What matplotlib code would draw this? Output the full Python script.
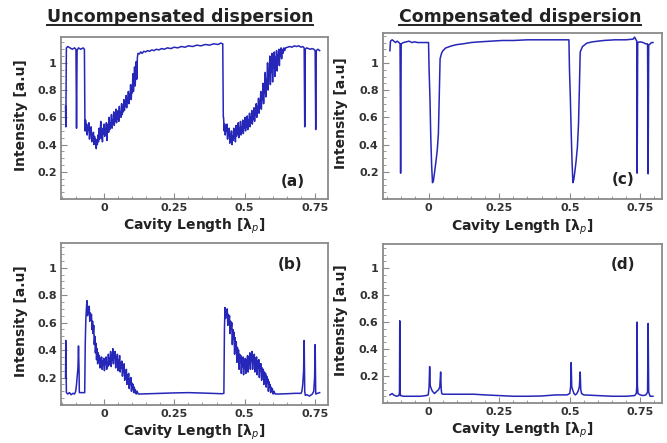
import matplotlib
matplotlib.use("Agg")
import matplotlib.pyplot as plt
from matplotlib.lines import Line2D
from matplotlib.ticker import MultipleLocator

# ---- data (x in lambda_p, intensity in a.u.) ----
a_pts = [
    (-0.136, 0.68), (-0.135, 0.53), (-0.133, 1.11), (-0.128, 1.12), (-0.120, 1.11),
    (-0.112, 1.10), (-0.104, 1.11), (-0.099, 1.10), (-0.097, 0.52), (-0.095, 1.09),
    (-0.090, 1.11), (-0.082, 1.10), (-0.074, 1.11), (-0.069, 1.10), (-0.067, 0.50),
    (-0.065, 0.58), (-0.063, 0.50), (-0.061, 0.55), (-0.059, 0.47), (-0.057, 0.53),
    (-0.055, 0.51), (-0.053, 0.56), (-0.051, 0.44), (-0.049, 0.50), (-0.047, 0.48),
    (-0.045, 0.53), (-0.043, 0.42), (-0.041, 0.47), (-0.039, 0.45), (-0.037, 0.49),
    (-0.035, 0.40), (-0.033, 0.46), (-0.031, 0.42), (-0.029, 0.44), (-0.027, 0.37),
    (-0.025, 0.43), (-0.023, 0.40), (-0.021, 0.47), (-0.019, 0.42), (-0.017, 0.52),
    (-0.015, 0.44), (-0.013, 0.48), (-0.011, 0.57), (-0.009, 0.45), (-0.007, 0.50),
    (-0.005, 0.42), (-0.003, 0.52), (-0.001, 0.48), (0.001, 0.55), (0.003, 0.46),
    (0.005, 0.51), (0.007, 0.49), (0.009, 0.56), (0.011, 0.43), (0.013, 0.52),
    (0.015, 0.55), (0.017, 0.49), (0.019, 0.60), (0.021, 0.51), (0.023, 0.56),
    (0.025, 0.53), (0.027, 0.62), (0.029, 0.52), (0.031, 0.58), (0.033, 0.55),
    (0.035, 0.64), (0.037, 0.54), (0.039, 0.60), (0.041, 0.57), (0.043, 0.66),
    (0.045, 0.56), (0.047, 0.61), (0.049, 0.59), (0.051, 0.65), (0.053, 0.57),
    (0.055, 0.68), (0.057, 0.61), (0.059, 0.64), (0.061, 0.60), (0.063, 0.70),
    (0.065, 0.62), (0.067, 0.66), (0.069, 0.64), (0.071, 0.73), (0.073, 0.65),
    (0.075, 0.70), (0.077, 0.68), (0.079, 0.76), (0.081, 0.67), (0.083, 0.74),
    (0.085, 0.71), (0.087, 0.79), (0.089, 0.70), (0.091, 0.77), (0.093, 0.75),
    (0.095, 0.84), (0.097, 0.73), (0.099, 0.80), (0.101, 0.78), (0.103, 0.92),
    (0.105, 0.79), (0.107, 0.86), (0.109, 0.97), (0.111, 0.83), (0.113, 0.90),
    (0.115, 1.01), (0.117, 0.88), (0.119, 1.04), (0.121, 1.07), (0.126, 1.065),
    (0.131, 1.08), (0.136, 1.07), (0.142, 1.085), (0.148, 1.08), (0.155, 1.09),
    (0.162, 1.085), (0.170, 1.095), (0.178, 1.09), (0.186, 1.10), (0.195, 1.095),
    (0.205, 1.105), (0.215, 1.10), (0.225, 1.11), (0.238, 1.105), (0.250, 1.115),
    (0.262, 1.11), (0.275, 1.12), (0.288, 1.115), (0.300, 1.125), (0.315, 1.12),
    (0.330, 1.13), (0.345, 1.125), (0.360, 1.135), (0.375, 1.13), (0.390, 1.14),
    (0.405, 1.135), (0.415, 1.145), (0.422, 1.14), (0.424, 0.60),
    (0.425, 0.60), (0.427, 0.50), (0.429, 0.55), (0.431, 0.47), (0.433, 0.53),
    (0.435, 0.50), (0.437, 0.55), (0.439, 0.44), (0.441, 0.50), (0.443, 0.47),
    (0.445, 0.52), (0.447, 0.41), (0.449, 0.48), (0.451, 0.44), (0.453, 0.50),
    (0.455, 0.40), (0.457, 0.46), (0.459, 0.43), (0.461, 0.52), (0.463, 0.45),
    (0.465, 0.49), (0.467, 0.42), (0.469, 0.54), (0.471, 0.46), (0.473, 0.51),
    (0.475, 0.48), (0.477, 0.56), (0.479, 0.45), (0.481, 0.52), (0.483, 0.49),
    (0.485, 0.57), (0.487, 0.47), (0.489, 0.53), (0.491, 0.50), (0.493, 0.58),
    (0.495, 0.48), (0.497, 0.55), (0.499, 0.52), (0.501, 0.60), (0.503, 0.50),
    (0.505, 0.56), (0.507, 0.53), (0.509, 0.61), (0.511, 0.51), (0.513, 0.58),
    (0.515, 0.55), (0.517, 0.63), (0.519, 0.53), (0.521, 0.60), (0.523, 0.57),
    (0.525, 0.65), (0.527, 0.55), (0.529, 0.62), (0.531, 0.59), (0.533, 0.67),
    (0.535, 0.57), (0.537, 0.64), (0.539, 0.62), (0.541, 0.70), (0.543, 0.60),
    (0.545, 0.68), (0.547, 0.65), (0.549, 0.74), (0.551, 0.63), (0.553, 0.71),
    (0.555, 0.69), (0.557, 0.79), (0.559, 0.66), (0.561, 0.76), (0.563, 0.73),
    (0.565, 0.85), (0.567, 0.70), (0.569, 0.82), (0.571, 0.78), (0.573, 0.93),
    (0.575, 0.75), (0.577, 0.88), (0.579, 0.84), (0.581, 1.00), (0.583, 0.80),
    (0.585, 0.95), (0.587, 0.90), (0.589, 1.05), (0.591, 0.84), (0.593, 0.98),
    (0.595, 0.93), (0.597, 1.07), (0.599, 0.86), (0.601, 1.02), (0.603, 0.96),
    (0.605, 1.08), (0.607, 0.90), (0.609, 1.04), (0.611, 0.99), (0.613, 1.09),
    (0.615, 0.94), (0.617, 1.06), (0.619, 1.02), (0.621, 1.10), (0.623, 0.98),
    (0.625, 1.08), (0.627, 1.05), (0.629, 1.11), (0.631, 1.03), (0.633, 1.10),
    (0.636, 1.07), (0.639, 1.11), (0.642, 1.09), (0.645, 1.11), (0.652, 1.115),
    (0.660, 1.12), (0.668, 1.115), (0.676, 1.125), (0.684, 1.12), (0.692, 1.125),
    (0.700, 1.115), (0.706, 1.12), (0.711, 1.11), (0.713, 0.53), (0.715, 1.10),
    (0.720, 1.11), (0.726, 1.105), (0.732, 1.10), (0.739, 1.105), (0.745, 1.10),
    (0.750, 1.09), (0.752, 0.51), (0.754, 1.09), (0.760, 1.10), (0.766, 1.09),
]

b_pts = [
    (-0.136, 0.20), (-0.135, 0.47), (-0.133, 0.09), (-0.128, 0.08), (-0.122, 0.09),
    (-0.116, 0.075), (-0.110, 0.085), (-0.104, 0.08), (-0.100, 0.10), (-0.097, 0.15),
    (-0.094, 0.22), (-0.092, 0.27), (-0.090, 0.43), (-0.088, 0.25), (-0.087, 0.09),
    (-0.080, 0.09), (-0.072, 0.09), (-0.068, 0.09), (-0.066, 0.45),
    (-0.064, 0.62), (-0.062, 0.70), (-0.060, 0.76), (-0.058, 0.65), (-0.056, 0.71),
    (-0.054, 0.67), (-0.052, 0.72), (-0.050, 0.61), (-0.048, 0.67), (-0.046, 0.63),
    (-0.044, 0.66), (-0.042, 0.55), (-0.040, 0.61), (-0.038, 0.52), (-0.036, 0.58),
    (-0.034, 0.44), (-0.032, 0.50), (-0.030, 0.38), (-0.028, 0.45), (-0.026, 0.33),
    (-0.024, 0.41), (-0.022, 0.30), (-0.020, 0.38), (-0.018, 0.33), (-0.016, 0.36),
    (-0.014, 0.27), (-0.012, 0.34), (-0.010, 0.30), (-0.008, 0.35), (-0.006, 0.26),
    (-0.004, 0.32), (-0.002, 0.29), (0.000, 0.34), (0.002, 0.25), (0.004, 0.33),
    (0.006, 0.30), (0.008, 0.35), (0.010, 0.26), (0.012, 0.31), (0.014, 0.28),
    (0.016, 0.37), (0.018, 0.29), (0.020, 0.34), (0.022, 0.31), (0.024, 0.39),
    (0.026, 0.28), (0.028, 0.36), (0.030, 0.33), (0.032, 0.41), (0.034, 0.30),
    (0.036, 0.38), (0.038, 0.34), (0.040, 0.39), (0.042, 0.27), (0.044, 0.35),
    (0.046, 0.31), (0.048, 0.37), (0.050, 0.25), (0.052, 0.33), (0.054, 0.29),
    (0.056, 0.36), (0.058, 0.24), (0.060, 0.31), (0.062, 0.27), (0.064, 0.32),
    (0.066, 0.21), (0.068, 0.28), (0.070, 0.24), (0.072, 0.30), (0.074, 0.18),
    (0.076, 0.25), (0.078, 0.21), (0.080, 0.26), (0.082, 0.15), (0.084, 0.22),
    (0.086, 0.18), (0.088, 0.23), (0.090, 0.12), (0.092, 0.19), (0.094, 0.15),
    (0.096, 0.20), (0.098, 0.10), (0.100, 0.16), (0.102, 0.12), (0.104, 0.15),
    (0.106, 0.09), (0.108, 0.13), (0.110, 0.09), (0.112, 0.11), (0.115, 0.08),
    (0.118, 0.10), (0.122, 0.08), (0.130, 0.08), (0.160, 0.082), (0.200, 0.085),
    (0.250, 0.088), (0.300, 0.09), (0.350, 0.087), (0.400, 0.083), (0.420, 0.082),
    (0.426, 0.085), (0.428, 0.55),
    (0.430, 0.71), (0.432, 0.63), (0.434, 0.69), (0.436, 0.66), (0.438, 0.70),
    (0.440, 0.58), (0.442, 0.66), (0.444, 0.61), (0.446, 0.65), (0.448, 0.52),
    (0.450, 0.61), (0.452, 0.55), (0.454, 0.60), (0.456, 0.44), (0.458, 0.55),
    (0.460, 0.48), (0.462, 0.53), (0.464, 0.37), (0.466, 0.49), (0.468, 0.41),
    (0.470, 0.46), (0.472, 0.31), (0.474, 0.42), (0.476, 0.35), (0.478, 0.40),
    (0.480, 0.26), (0.482, 0.37), (0.484, 0.31), (0.486, 0.36), (0.488, 0.23),
    (0.490, 0.34), (0.492, 0.28), (0.494, 0.35), (0.496, 0.22), (0.498, 0.32),
    (0.500, 0.27), (0.502, 0.34), (0.504, 0.23), (0.506, 0.33), (0.508, 0.29),
    (0.510, 0.36), (0.512, 0.24), (0.514, 0.35), (0.516, 0.30), (0.518, 0.38),
    (0.520, 0.26), (0.522, 0.36), (0.524, 0.32), (0.526, 0.39), (0.528, 0.26),
    (0.530, 0.35), (0.532, 0.31), (0.534, 0.37), (0.536, 0.24), (0.538, 0.34),
    (0.540, 0.29), (0.542, 0.35), (0.544, 0.22), (0.546, 0.32), (0.548, 0.27),
    (0.550, 0.33), (0.552, 0.20), (0.554, 0.30), (0.556, 0.25), (0.558, 0.30),
    (0.560, 0.18), (0.562, 0.27), (0.564, 0.22), (0.566, 0.26), (0.568, 0.15),
    (0.570, 0.24), (0.572, 0.19), (0.574, 0.23), (0.576, 0.13), (0.578, 0.21),
    (0.580, 0.16), (0.582, 0.19), (0.584, 0.10), (0.586, 0.17), (0.588, 0.13),
    (0.590, 0.15), (0.592, 0.09), (0.594, 0.13), (0.596, 0.10), (0.598, 0.12),
    (0.601, 0.08), (0.604, 0.10), (0.608, 0.08), (0.620, 0.08), (0.650, 0.082),
    (0.680, 0.085), (0.700, 0.085), (0.703, 0.10), (0.706, 0.15), (0.709, 0.25),
    (0.711, 0.47), (0.713, 0.10), (0.715, 0.07), (0.720, 0.075), (0.730, 0.065),
    (0.740, 0.08), (0.745, 0.10), (0.748, 0.20), (0.750, 0.44), (0.752, 0.08),
    (0.758, 0.085), (0.766, 0.09),
]

c_pts = [
    (-0.138, 1.09), (-0.136, 1.16), (-0.130, 1.17), (-0.124, 1.16), (-0.118, 1.15),
    (-0.112, 1.16), (-0.106, 1.15), (-0.102, 1.14), (-0.100, 0.19), (-0.098, 1.14),
    (-0.090, 1.15), (-0.080, 1.155), (-0.070, 1.16), (-0.060, 1.15), (-0.050, 1.155),
    (-0.040, 1.15), (-0.030, 1.15), (-0.020, 1.15), (-0.010, 1.15), (-0.001, 1.15),
    (0.001, 0.95), (0.004, 0.75), (0.007, 0.45), (0.010, 0.25), (0.013, 0.12),
    (0.016, 0.13), (0.020, 0.19), (0.025, 0.27), (0.030, 0.36), (0.034, 0.48),
    (0.037, 0.75), (0.040, 1.03), (0.045, 1.07), (0.050, 1.09), (0.060, 1.11),
    (0.080, 1.125), (0.100, 1.135), (0.120, 1.14), (0.150, 1.15), (0.180, 1.155),
    (0.220, 1.16), (0.260, 1.165), (0.300, 1.165), (0.350, 1.17), (0.400, 1.17),
    (0.450, 1.17), (0.497, 1.17), (0.499, 0.95), (0.502, 0.75), (0.505, 0.50),
    (0.508, 0.28), (0.511, 0.12), (0.514, 0.14), (0.518, 0.20), (0.522, 0.27),
    (0.527, 0.38), (0.531, 0.55), (0.534, 0.80), (0.537, 1.08), (0.545, 1.12),
    (0.560, 1.145), (0.580, 1.155), (0.620, 1.165), (0.660, 1.17), (0.700, 1.17),
    (0.725, 1.175), (0.730, 1.19), (0.735, 1.17), (0.738, 1.16), (0.739, 0.19),
    (0.741, 1.15), (0.750, 1.155), (0.760, 1.15), (0.770, 1.14), (0.776, 1.14),
    (0.778, 0.185), (0.780, 1.13), (0.785, 1.14), (0.790, 1.15), (0.795, 1.15),
]

d_pts = [
    (-0.138, 0.06), (-0.130, 0.07), (-0.125, 0.06), (-0.115, 0.05), (-0.106, 0.055),
    (-0.104, 0.08), (-0.103, 0.61), (-0.102, 0.08), (-0.100, 0.055), (-0.090, 0.05),
    (-0.070, 0.05), (-0.050, 0.05), (-0.030, 0.05), (-0.010, 0.055), (-0.002, 0.06),
    (0.001, 0.12), (0.003, 0.27), (0.005, 0.13), (0.008, 0.11), (0.012, 0.09),
    (0.016, 0.08), (0.020, 0.07), (0.025, 0.08), (0.030, 0.09), (0.035, 0.10),
    (0.039, 0.12), (0.042, 0.23), (0.044, 0.10), (0.046, 0.07), (0.050, 0.065),
    (0.080, 0.065), (0.120, 0.065), (0.160, 0.065), (0.200, 0.06), (0.250, 0.055),
    (0.300, 0.05), (0.350, 0.05), (0.400, 0.052), (0.450, 0.06), (0.490, 0.06),
    (0.500, 0.07), (0.503, 0.12), (0.505, 0.30), (0.507, 0.12), (0.510, 0.10),
    (0.515, 0.07), (0.520, 0.06), (0.525, 0.07), (0.530, 0.09), (0.534, 0.12),
    (0.537, 0.23), (0.539, 0.10), (0.542, 0.07), (0.550, 0.06), (0.600, 0.055),
    (0.650, 0.05), (0.700, 0.05), (0.730, 0.055), (0.736, 0.07), (0.738, 0.13),
    (0.739, 0.60), (0.740, 0.13), (0.742, 0.07), (0.750, 0.06), (0.760, 0.055),
    (0.770, 0.06), (0.776, 0.08), (0.778, 0.59), (0.780, 0.08), (0.785, 0.05),
    (0.795, 0.05),
]

x_ticks = [0, 0.25, 0.5, 0.75]
x_tick_labels = ["0", "0.25", "0.5", "0.75"]
y_ticks = [0.2, 0.4, 0.6, 0.8, 1.0]
y_tick_labels = ["0.2", "0.4", "0.6", "0.8", "1"]

line_color = "#2626b8"
frame_color = "#8a8a8a"

fig = plt.figure(figsize=(6.67, 4.43), dpi=100)
fig.patch.set_facecolor("white")

panels = [
    (a_pts, "(a)", [0.0915, 0.5508, 0.400, 0.3657], (-0.152, 0.795), (0, 1.19), (0.87, 0.11)),
    (c_pts, "(c)", [0.574, 0.5508, 0.418, 0.3747], (-0.163, 0.826), (0, 1.22), (0.86, 0.12)),
    (b_pts, "(b)", [0.0915, 0.0858, 0.400, 0.3657], (-0.152, 0.795), (0, 1.18), (0.86, 0.87)),
    (d_pts, "(d)", [0.574, 0.0903, 0.418, 0.359], (-0.163, 0.826), (0, 1.18), (0.86, 0.87)),
]

for pts, tag, rect, xl, yl, tag_pos in panels:
    ax = fig.add_axes(rect)
    xs = [p[0] for p in pts]
    ys = [p[1] for p in pts]
    ax.plot(xs, ys, color=line_color, lw=1.1)
    ax.set_xlim(*xl)
    ax.set_ylim(*yl)
    ax.set_xticks(x_ticks)
    ax.set_xticklabels(x_tick_labels)
    ax.set_yticks(y_ticks)
    ax.set_yticklabels(y_tick_labels)
    ax.xaxis.set_minor_locator(MultipleLocator(0.05))
    ax.yaxis.set_minor_locator(MultipleLocator(0.05))
    ax.tick_params(which="both", direction="in", color=frame_color,
                   labelsize=8, labelcolor="#333333")
    ax.tick_params(which="major", length=4, width=0.8, pad=3)
    ax.tick_params(which="minor", length=2, width=0.6)
    for lab in ax.get_xticklabels() + ax.get_yticklabels():
        lab.set_fontweight("bold")
    for sp in ax.spines.values():
        sp.set_color(frame_color)
        sp.set_linewidth(1.3)
    ax.set_ylabel("Intensity [a.u]", fontsize=10, fontweight="bold", color="#222222")
    ax.set_xlabel("Cavity Length [λ$_{p}$]", fontsize=10, fontweight="bold", color="#222222")
    ax.yaxis.set_label_coords(-0.15, 0.52)
    ax.xaxis.set_label_coords(0.5, -0.17)
    ax.xaxis.label.set_va("center")
    ax.yaxis.label.set_va("center")
    ax.text(tag_pos[0], tag_pos[1], tag, transform=ax.transAxes, fontsize=11,
            fontweight="bold", color="#222222", ha="center", va="center")

# underlined column titles
titles = [("Uncompensated dispersion", 180), ("Compensated dispersion", 520)]
fig.canvas.draw()
renderer = fig.canvas.get_renderer()
W, H = fig.bbox.width, fig.bbox.height
for txt, cx in titles:
    t = fig.text(cx / W, 1 - 17 / H, txt, fontsize=12.5, fontweight="bold",
                 color="#222222", ha="center", va="center")
    bb = t.get_window_extent(renderer)
    fig.add_artist(Line2D([bb.x0 / W, bb.x1 / W], [(bb.y0 + 1) / H, (bb.y0 + 1) / H],
                          color="#222222", lw=1.4))

fig.savefig("out.png", dpi=100)
